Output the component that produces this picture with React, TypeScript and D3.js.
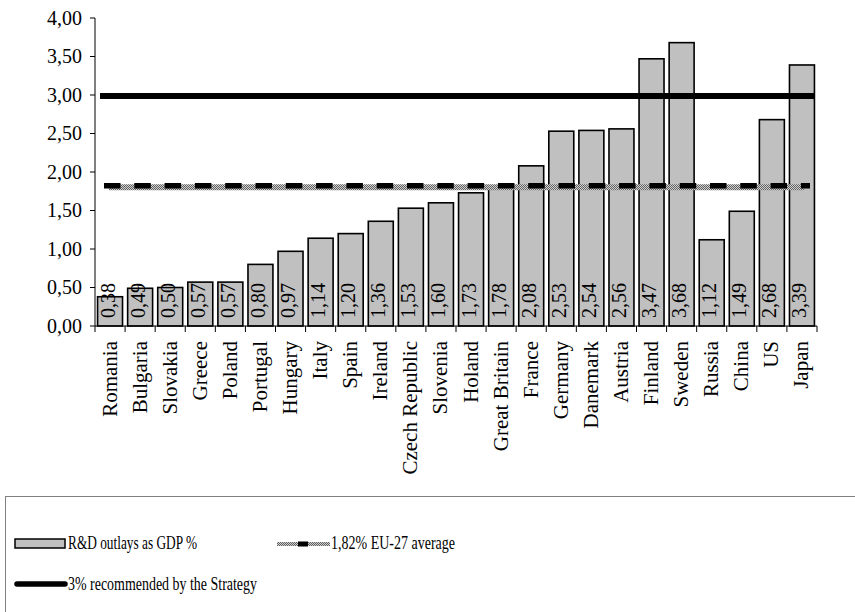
import React from 'react';
import * as d3 from 'd3';

const categories = ["Romania","Bulgaria","Slovakia","Greece","Poland","Portugal","Hungary","Italy","Spain","Ireland","Czech Republic","Slovenia","Holand","Great Britain","France","Germany","Danemark","Austria","Finland","Sweden","Russia","China","US","Japan"];
const outlays = [0.38,0.49,0.50,0.57,0.57,0.80,0.97,1.14,1.20,1.36,1.53,1.60,1.73,1.78,2.08,2.53,2.54,2.56,3.47,3.68,1.12,1.49,2.68,3.39];
const yTicks = [0,0.5,1,1.5,2,2.5,3,3.5,4];
const euAverage = 1.82;
const strategyTarget = 3.0;
const legendLabels = ["R&D outlays as GDP %","1,82% EU-27 average","3% recommended by the Strategy"];

const W = 855, H = 612;
const L = 95, R = 817, T = 18, B = 326;
const FONT = "'Liberation Serif', 'Times New Roman', serif";
const fmt = (v: number) => d3.format(".2f")(v).replace('.', ',');

export default function App() {
  const x = d3.scaleBand<string>().domain(categories).range([L, R]).paddingInner(0.17).paddingOuter(0.085);
  const y = d3.scaleLinear().domain([0, 4]).range([B, T]);
  const step = x.step();
  const boundaries = d3.range(categories.length + 1).map(i => L + i * step);
  const yEU = y(euAverage);
  const y3 = y(strategyTarget);

  return (
    <div style={{ position: 'absolute', left: 0, top: 0 }}>
      <svg width={W} height={H} style={{ display: 'block', background: '#fff' }} fontFamily={FONT}>
        <defs>
          <pattern id="chk" width="2" height="2" patternUnits="userSpaceOnUse">
            <rect width="2" height="2" fill="#d0d0d0" />
            <rect width="1" height="1" fill="#606060" />
            <rect x="1" y="1" width="1" height="1" fill="#606060" />
          </pattern>
        </defs>
        {/* bars */}
        {categories.map((c, i) => (
          <rect key={c} x={x(c)!} y={y(outlays[i])} width={x.bandwidth()} height={B - y(outlays[i])}
            fill="#c0c0c0" stroke="#000" strokeWidth={1.6} />
        ))}
        {/* value labels */}
        {categories.map((c, i) => {
          const cx = x(c)! + x.bandwidth() / 2 + 4.5;
          return (
            <text key={'v' + c} transform={`translate(${cx},${B - 8}) rotate(-90)`} fontSize={20} fill="#000">
              {fmt(outlays[i])}
            </text>
          );
        })}
        {/* axes */}
        <line x1={L} x2={L} y1={T} y2={B} stroke="#000" strokeWidth={1} />
        {yTicks.map(t => (
          <g key={'yt' + t}>
            <line x1={L - 5} x2={L} y1={y(t)} y2={y(t)} stroke="#000" />
            <text x={82} y={y(t) + 6.5} textAnchor="end" fontSize={20}>{fmt(t)}</text>
          </g>
        ))}
        <line x1={L} x2={R} y1={B} y2={B} stroke="#000" strokeWidth={1} />
        {boundaries.map((bx, i) => (
          <line key={'xt' + i} x1={bx} x2={bx} y1={B} y2={B + 6} stroke="#000" />
        ))}
        {categories.map(c => {
          const cx = x(c)! + x.bandwidth() / 2 + 6.5;
          return (
            <text key={'c' + c} transform={`translate(${cx},${B + 15}) rotate(-90)`} textAnchor="end" fontSize={21}>{c}</text>
          );
        })}
        {/* EU average line */}
        <line x1={L + 14} x2={R - 13} y1={yEU + 1.5} y2={yEU + 1.5} stroke="url(#chk)" strokeWidth={6} />
        <line x1={L + 9} x2={R - 7} y1={yEU} y2={yEU} stroke="#000" strokeWidth={5.5} strokeDasharray="16.5 13.8" />
        {/* 3% line */}
        <line x1={L + 5} x2={R - 3} y1={y3 + 1} y2={y3 + 1} stroke="#000" strokeWidth={6} />

        {/* legend */}
        <rect x={5.5} y={496.5} width={900} height={200} fill="none" stroke="#808080" strokeWidth={1} />
        <rect x={15} y={539} width={50} height={9} fill="#c0c0c0" stroke="#000" strokeWidth={1.5} />
        <text x={68} y={549} fontSize={19} textLength={129} lengthAdjust="spacingAndGlyphs">{legendLabels[0]}</text>
        <rect x={277} y={542} width={53} height={4} fill="url(#chk)" />
        <rect x={298} y={541.5} width={10} height={5} fill="#000" />
        <text x={331} y={549} fontSize={19} textLength={124} lengthAdjust="spacingAndGlyphs">{legendLabels[1]}</text>
        <line x1={17} x2={65} y1={584} y2={584} stroke="#000" strokeWidth={5.5} strokeLinecap="round" />
        <text x={68} y={590} fontSize={19} textLength={189} lengthAdjust="spacingAndGlyphs">{legendLabels[2]}</text>
      </svg>
    </div>
  );
}
